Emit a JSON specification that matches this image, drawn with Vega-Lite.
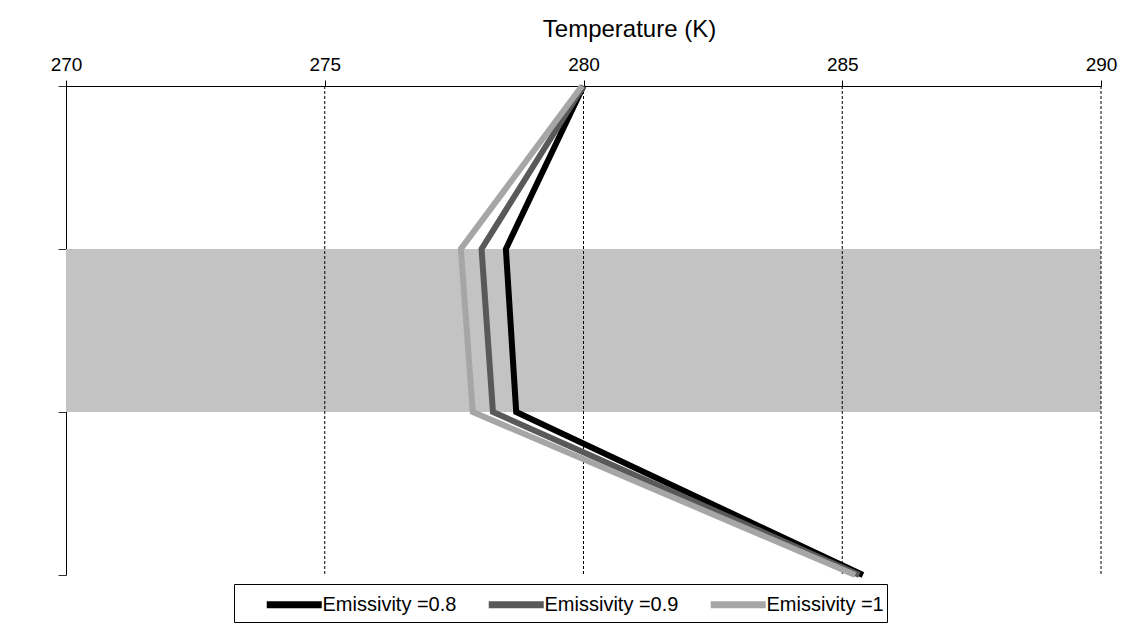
{
  "$schema": "https://vega.github.io/schema/vega-lite/v6.json",
  "width": 1035,
  "height": 489,
  "autosize": {"type": "none"},
  "padding": {"left": 66, "top": 86, "right": 35, "bottom": 59},
  "background": "white",
  "config": {
    "view": {"stroke": null},
    "font": "Liberation Sans",
    "axisX": {
      "grid": false,
      "zindex": 1,
      "domainColor": "black",
      "tickColor": "black",
      "tickSize": 6,
      "labelFontSize": 19,
      "labelColor": "black",
      "labelPadding": 6,
      "labelFlush": false,
      "titleFontSize": 24,
      "titleFontWeight": "normal",
      "titleColor": "black",
      "titleX": 563,
      "titleY": -50,
      "titleBaseline": "alphabetic"
    },
    "axisY": {
      "labels": false,
      "grid": false,
      "zindex": 1,
      "domainColor": "black",
      "tickColor": "#333333",
      "tickSize": 8
    }
  },
  "layer": [
    {
      "data": {"values": [{"t0": 270, "t1": 290, "d0": 1, "d1": 2}]},
      "mark": {"type": "rect", "color": "#c3c3c3"},
      "encoding": {
        "x": {"field": "t0", "type": "quantitative", "scale": {"domain": [270, 290]},
              "axis": {"orient": "top", "values": [270, 275, 280, 285, 290], "title": "Temperature (K)"}},
        "x2": {"field": "t1"},
        "y": {"field": "d0", "type": "quantitative", "scale": {"domain": [0, 3], "reverse": true},
              "axis": {"values": [0, 1, 2, 3], "title": null}},
        "y2": {"field": "d1"}
      }
    },
    {
      "data": {"values": [{"g": 275}, {"g": 280}, {"g": 285}, {"g": 290}]},
      "mark": {"type": "rule", "color": "black", "strokeWidth": 1, "strokeDash": [3, 2]},
      "encoding": {
        "x": {"field": "g", "type": "quantitative", "scale": {"domain": [270, 290]},
              "axis": {"orient": "top", "values": [270, 275, 280, 285, 290], "title": "Temperature (K)"}}
      }
    },
    {
      "data": {
        "values": [
          {"series": "Emissivity =0.8", "depth": 0, "temp": 280.0},
          {"series": "Emissivity =0.8", "depth": 1, "temp": 278.5},
          {"series": "Emissivity =0.8", "depth": 2, "temp": 278.7},
          {"series": "Emissivity =0.8", "depth": 3, "temp": 285.4},
          {"series": "Emissivity =0.9", "depth": 0, "temp": 280.0},
          {"series": "Emissivity =0.9", "depth": 1, "temp": 278.03},
          {"series": "Emissivity =0.9", "depth": 2, "temp": 278.25},
          {"series": "Emissivity =0.9", "depth": 3, "temp": 285.33},
          {"series": "Emissivity =1", "depth": 0, "temp": 279.97},
          {"series": "Emissivity =1", "depth": 1, "temp": 277.63},
          {"series": "Emissivity =1", "depth": 2, "temp": 277.86},
          {"series": "Emissivity =1", "depth": 3, "temp": 285.25}
        ]
      },
      "mark": {"type": "line", "strokeWidth": 6},
      "encoding": {
        "x": {
          "field": "temp",
          "type": "quantitative",
          "scale": {"domain": [270, 290]},
          "axis": {"orient": "top", "values": [270, 275, 280, 285, 290], "title": "Temperature (K)"}
        },
        "y": {
          "field": "depth",
          "type": "quantitative",
          "scale": {"domain": [0, 3], "reverse": true},
          "axis": {"values": [0, 1, 2, 3], "title": null}
        },
        "color": {
          "field": "series",
          "type": "nominal",
          "scale": {
            "domain": ["Emissivity =0.8", "Emissivity =0.9", "Emissivity =1"],
            "range": ["#000000", "#595959", "#a6a6a6"]
          },
          "legend": {
            "title": null,
            "orient": "none",
            "direction": "horizontal",
            "legendX": 168,
            "legendY": 498,
            "strokeColor": "black",
            "fillColor": "white",
            "padding": 3,
            "symbolType": "M-1,0H3",
            "symbolSize": 756,
            "symbolStrokeWidth": 7,
            "symbolOffset": 26,
            "labelFontSize": 20,
            "labelColor": "black",
            "labelOffset": 24.5,
            "columnPadding": 2,
            "gridAlign": "all"
          }
        },
        "order": {"field": "depth", "type": "quantitative"}
      }
    }
  ]
}
